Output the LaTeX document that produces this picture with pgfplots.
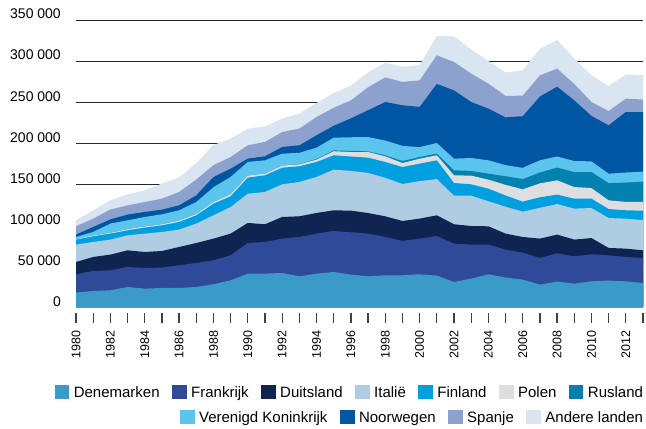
\documentclass[border=0pt]{standalone}
\usepackage{fontspec}
\setmainfont{Liberation Sans}
\usepackage{pgfplots}
\usepackage{pgfplotstable}
\pgfplotsset{compat=1.18}

\definecolor{cDen}{HTML}{3B9BC8}
\definecolor{cFra}{HTML}{2F4A98}
\definecolor{cDui}{HTML}{102452}
\definecolor{cIta}{HTML}{AECDE3}
\definecolor{cFin}{HTML}{00A0E0}
\definecolor{cPol}{HTML}{DDDEE0}
\definecolor{cRus}{HTML}{0481AE}
\definecolor{cVK}{HTML}{5CC5ED}
\definecolor{cNoo}{HTML}{0056A2}
\definecolor{cSpa}{HTML}{8DA1CF}
\definecolor{cAnd}{HTML}{D9E5F1}

% stacked (running) totals per year, thousands
\pgfplotstableread{
year  Den   Fra   Dui   Ita   Fin   Pol   Rus   VK    Noo   Spa   And
1980  17.6  39.9  54.9  76.1  82.2  82.9  82.9  85.4  88.3  98.4  105.7
1981  19.5  43.9  61.0  79.3  86.2  87.4  87.4  91.5  97.6  107.8 117.9
1982  20.4  44.8  63.9  82.2  89.5  90.5  90.5  101.7 106.9 118.8 130.1
1983  24.4  48.8  69.1  87.4  93.5  95.0  95.0  105.7 112.7 124.0 137.4
1984  22.4  47.6  67.1  89.5  96.8  98.2  98.2  109.8 115.9 128.0 142.3
1985  23.2  48.0  68.3  91.5  99.6  100.9 100.9 113.0 118.8 132.2 150.5
1986  23.2  50.9  73.2  94.4  103.7 105.5 105.5 117.9 124.0 140.2 158.0
1987  24.4  53.7  78.0  101.7 111.8 113.5 113.5 128.0 136.2 155.4 175.5
1988  27.7  57.0  83.4  111.8 126.0 128.0 128.0 146.0 158.5 173.0 197.5
1989  32.6  63.0  89.5  122.0 135.0 137.5 137.5 158.6 168.7 182.9 205.3
1990  40.7  78.1  102.5 138.2 157.8 160.3 160.3 176.9 181.0 197.2 217.5
1991  40.7  79.3  100.9 140.3 160.6 162.6 162.6 178.9 183.8 201.3 220.3
1992  41.5  83.4  109.8 149.6 169.9 172.4 172.4 187.0 195.2 213.4 229.7
1993  37.4  85.4  110.6 152.5 171.6 174.0 174.3 188.0 197.2 217.5 235.8
1994  40.7  89.5  114.7 158.6 176.9 179.7 180.5 194.3 209.4 231.7 248.8
1995  42.7  92.7  117.9 167.5 185.0 190.0 191.0 206.5 221.0 243.0 261.0
1996  39.5  91.1  117.5 166.0 183.5 189.0 190.3 207.0 230.0 252.0 270.0
1997  37.4  89.5  114.6 163.5 182.1 189.0 189.8 207.3 240.0 268.0 286.0
1998  38.7  85.4  110.6 157.5 176.8 183.7 185.0 203.0 250.0 280.0 298.0
1999  38.7  80.5  104.9 150.0 170.7 175.6 178.0 196.5 246.0 274.5 293.0
2000  39.9  83.4  107.8 153.5 174.8 180.9 182.9 195.0 244.0 276.4 295.0
2001  38.3  86.6  111.8 156.0 178.9 185.0 187.0 200.0 272.0 307.0 330.5
2002  30.5  77.3  100.9 135.8 151.2 160.6 166.7 180.9 264.2 298.8 330.0
2003  34.6  76.1  98.8  135.8 149.6 160.2 165.9 181.7 250.0 284.6 314.0
2004  39.9  76.1  98.4  129.0 144.3 155.3 162.6 178.9 241.9 272.4 300.0
2005  35.9  70.0  89.5  122.3 136.0 149.0 159.5 173.0 231.3 257.5 286.0
2006  33.4  66.3  85.4  116.3 128.5 143.5 156.0 169.7 232.7 257.7 288.6
2007  27.3  59.8  83.4  121.0 133.8 150.8 164.0 178.9 256.7 282.5 315.0
2008  31.0  65.5  88.3  125.5 137.0 154.5 170.0 183.5 268.7 290.7 325.5
2009  28.5  61.8  82.2  120.0 132.1 146.3 164.6 178.0 252.0 272.0 303.0
2010  31.3  64.3  84.1  120.7 132.1 145.0 164.6 177.6 233.0 250.0 282.5
2011  32.2  63.0  72.0  108.5 119.5 130.1 151.0 162.6 221.6 239.0 269.5
2012  31.3  61.0  71.2  107.7 117.9 128.1 151.8 164.0 237.8 254.1 283.5
2013  29.3  59.8  69.1  106.0 117.5 128.1 152.8 165.0 237.5 253.0 283.0
}\stacked

\pgfplotsset{
  legendrow/.style={
    legend columns=-1,
    legend style={draw=none, fill=none, inner sep=0pt, outer sep=0pt,
      font=\fontsize{15}{15}\selectfont,
      nodes={inner sep=0pt, text height=11pt, text depth=0pt},
      /tikz/every odd column/.append style={column sep=4.5pt},
      /tikz/every even column/.append style={column sep=12.5pt}},
    legend image code/.code={\fill[##1] (0pt,-7pt) rectangle (14.5pt,7pt);},
  },
  samebox/.style={scale only axis, width=567pt, height=287pt},
}

\begin{document}
\begin{tikzpicture}
\begin{axis}[
  samebox, clip=false,
  xmin=1980, xmax=2013, ymin=0, ymax=350,
  axis lines*=left,
  axis line style={-},
  x axis line style={draw=black!25, line width=1pt},
  y axis line style={draw=none},
  xtick=\empty,
  ytick={50,100,...,350},
  yticklabels={50 000,100 000,150 000,200 000,250 000,300 000,350 000},
  extra y ticks={0}, extra y tick labels={0},
  extra y tick style={grid=none},
  ytick style={draw=none},
  yticklabel style={anchor=base east, inner sep=0pt, yshift=1pt,
    font=\fontsize{14}{14}\selectfont},
  yticklabel shift=15pt,
  ymajorgrids,
  major grid style={draw=black!85, line width=0.9pt},
  legendrow,
  legend style={at={(1,-0.295)}, anchor=east},
]
\addlegendimage{fill=cDen, draw=none}\addlegendentry{Denemarken}
\addlegendimage{fill=cFra, draw=none}\addlegendentry{Frankrijk}
\addlegendimage{fill=cDui, draw=none}\addlegendentry{Duitsland}
\addlegendimage{fill=cIta, draw=none}\addlegendentry{Italië}
\addlegendimage{fill=cFin, draw=none}\addlegendentry{Finland}
\addlegendimage{fill=cPol, draw=none}\addlegendentry{Polen}
\addlegendimage{fill=cRus, draw=none}\addlegendentry{Rusland}

\addplot[fill=cAnd, draw=none, forget plot] table[x=year, y=And] {\stacked} \closedcycle;
\addplot[fill=cSpa, draw=none, forget plot] table[x=year, y=Spa] {\stacked} \closedcycle;
\addplot[fill=cNoo, draw=none, forget plot] table[x=year, y=Noo] {\stacked} \closedcycle;
\addplot[fill=cVK,  draw=none, forget plot] table[x=year, y=VK]  {\stacked} \closedcycle;
\addplot[fill=cRus, draw=none, forget plot] table[x=year, y=Rus] {\stacked} \closedcycle;
\addplot[fill=cPol, draw=none, forget plot] table[x=year, y=Pol] {\stacked} \closedcycle;
\addplot[fill=cFin, draw=none, forget plot] table[x=year, y=Fin] {\stacked} \closedcycle;
\addplot[fill=cIta, draw=none, forget plot] table[x=year, y=Ita] {\stacked} \closedcycle;
\addplot[fill=cDui, draw=none, forget plot] table[x=year, y=Dui] {\stacked} \closedcycle;
\addplot[fill=cFra, draw=none, forget plot] table[x=year, y=Fra] {\stacked} \closedcycle;
\addplot[fill=cDen, draw=none, forget plot] table[x=year, y=Den] {\stacked} \closedcycle;

% year tick marks, set a little below the base line
\pgfplotsinvokeforeach{1980,1981,...,2013}{
  \fill[black!75] (axis cs:#1,0) ++(-0.6pt,-6pt) rectangle ++(1.2pt,-10pt);
}

\coordinate (bl) at (rel axis cs:0,0);
\coordinate (tr) at (rel axis cs:1,1);
\end{axis}

% year labels under the tick marks
\begin{axis}[
  scale only axis, width=567pt, height=10pt,
  at={(0pt,-16pt)}, anchor=south west,
  xmin=1980, xmax=2013, ymin=0, ymax=1,
  axis line style={draw=none},
  xtick={1980,1982,...,2012},
  ytick=\empty,
  major tick length=0pt,
  xtick style={draw=none},
  xticklabel style={rotate=90, anchor=east, inner sep=0pt,
    font=\fontsize{12.5}{12.5}\selectfont,
    /pgf/number format/1000 sep={},
    /pgf/number format/assume math mode=true},
  xticklabel shift=7pt,
]
\end{axis}

% second legend row, right aligned like the first
\begin{axis}[
  samebox, hide axis,
  xmin=0, xmax=1, ymin=0, ymax=1,
  legendrow,
  legend style={at={(1,-0.383)}, anchor=east},
]
\addlegendimage{fill=cVK, draw=none}\addlegendentry{Verenigd Koninkrijk}
\addlegendimage{fill=cNoo, draw=none}\addlegendentry{Noorwegen}
\addlegendimage{fill=cSpa, draw=none}\addlegendentry{Spanje}
\addlegendimage{fill=cAnd, draw=none}\addlegendentry{Andere landen}
\end{axis}

\pgfresetboundingbox
\path[use as bounding box] ([shift={(-76pt,-121pt)}]bl) rectangle ([shift={(3pt,20pt)}]tr);
\end{tikzpicture}
\end{document}
